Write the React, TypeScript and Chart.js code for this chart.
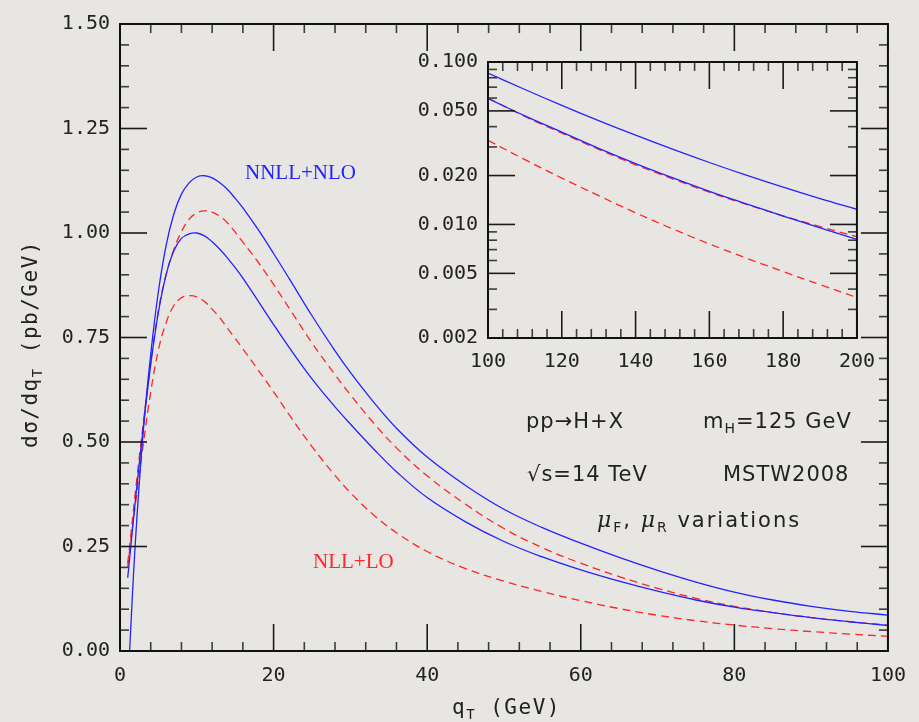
import React, { useEffect, useRef } from 'react';
import { Chart, registerables } from 'chart.js';

Chart.register(...registerables);

// ---------- main panel data (q_T in GeV, dσ/dq_T in pb/GeV) ----------
const QT = [1, 1.25, 2, 3, 4, 5, 6, 7, 8, 9, 10, 11, 12, 13, 14, 15, 16, 18, 20, 22, 25, 28, 30, 33, 36, 40, 45, 50, 55, 60, 65, 70, 75, 80, 85, 90, 95, 100];
const NNLL_UPPER = [null, 0.0, 0.26, 0.52, 0.71, 0.86, 0.97, 1.045, 1.093, 1.12, 1.134, 1.137, 1.132, 1.12, 1.104, 1.083, 1.06, 1.008, 0.951, 0.892, 0.802, 0.718, 0.6665, 0.596, 0.533, 0.464, 0.396, 0.339, 0.295, 0.258, 0.224, 0.193, 0.165, 0.141, 0.122, 0.107, 0.095, 0.086];
const NNLL_LOWER = [0.175, 0.22, 0.36, 0.53, 0.685, 0.81, 0.9, 0.957, 0.987, 0.998, 1.0, 0.993, 0.979, 0.961, 0.94, 0.917, 0.892, 0.837, 0.781, 0.727, 0.651, 0.584, 0.543, 0.484, 0.429, 0.367, 0.309, 0.262, 0.225, 0.194, 0.167, 0.143, 0.122, 0.105, 0.092, 0.080, 0.070, 0.061];
const NLL_UPPER = [0.21, 0.25, 0.38, 0.54, 0.69, 0.815, 0.9, 0.96, 1.003, 1.033, 1.048, 1.053, 1.05, 1.04, 1.024, 1.002, 0.978, 0.93, 0.877, 0.821, 0.737, 0.661, 0.613, 0.546, 0.486, 0.419, 0.351, 0.293, 0.247, 0.210, 0.178, 0.150, 0.126, 0.107, 0.092, 0.080, 0.070, 0.062];
const NLL_LOWER = [0.20, 0.24, 0.35, 0.49, 0.62, 0.72, 0.785, 0.826, 0.845, 0.85, 0.847, 0.836, 0.818, 0.797, 0.772, 0.748, 0.723, 0.672, 0.620, 0.566, 0.489, 0.420, 0.379, 0.326, 0.283, 0.238, 0.197, 0.167, 0.142, 0.1205, 0.1015, 0.0855, 0.0725, 0.062, 0.0535, 0.0465, 0.0405, 0.035];

// ---------- inset data (log scale) ----------
const QT_INSET = [100, 110, 120, 130, 140, 150, 160, 170, 180, 190, 200];
const INSET_NNLL_UPPER = [0.0854, 0.0677, 0.0541, 0.0436, 0.03544, 0.02907, 0.02406, 0.02011, 0.01696, 0.01443, 0.0124];
const INSET_NNLL_LOWER = [0.0595, 0.0466, 0.0370, 0.0294, 0.0237, 0.0194, 0.0160, 0.0134, 0.01127, 0.00953, 0.0081];
const INSET_NLL_UPPER = [0.0600, 0.0462, 0.0365, 0.0290, 0.0233, 0.0191, 0.0158, 0.0133, 0.0113, 0.0097, 0.0084];
const INSET_NLL_LOWER = [0.0330, 0.02506, 0.0193, 0.01503, 0.0118, 0.0094, 0.00759, 0.00621, 0.00513, 0.00426, 0.00355];

// ---------- ticks ----------
const MAIN_X_MAJOR = [0, 20, 40, 60, 80, 100];
const MAIN_Y_MAJOR = [0, 0.25, 0.5, 0.75, 1.0, 1.25, 1.5];
const INSET_X_MAJOR = [100, 120, 140, 160, 180, 200];
const INSET_Y_MAJOR = [0.002, 0.005, 0.01, 0.02, 0.05, 0.1];
const INSET_Y_MINOR = [0.003, 0.004, 0.006, 0.007, 0.008, 0.009, 0.03, 0.04, 0.06, 0.07, 0.08, 0.09];

const BG = '#e8e6e2';
const BLUE = '#2323ff';
const RED = '#ff2626';
const MONO = '"DejaVu Sans Mono", monospace';
const SANS = '"DejaVu Sans", sans-serif';
const TICK_COLOR = '#222222';

function steps(a: number, b: number, step: number, skip: number): number[] {
  const out: number[] = [];
  const n = Math.round((b - a) / step);
  for (let i = 0; i <= n; i++) {
    const v = +(a + i * step).toFixed(6);
    const r = v / skip;
    if (Math.abs(r - Math.round(r)) > 1e-6) out.push(v);
  }
  return out;
}

function makeFramePlugin(xMajor: number[], xMinor: number[], yMajor: number[], yMinor: number[]) {
  return {
    id: 'frameTicks',
    afterDatasetsDraw(chart: any) {
      const { ctx, chartArea: a } = chart;
      const xs = chart.scales.x;
      const ys = chart.scales.y;
      ctx.save();
      ctx.lineCap = 'butt';
      const seg = (x1: number, y1: number, x2: number, y2: number) => {
        ctx.beginPath();
        ctx.moveTo(x1, y1);
        ctx.lineTo(x2, y2);
        ctx.stroke();
      };
      const xt = (vals: number[], len: number, color: string) => {
        ctx.strokeStyle = color;
        ctx.lineWidth = 1.6;
        vals.forEach((v) => {
          const p = xs.getPixelForValue(v);
          seg(p, a.bottom, p, a.bottom - len);
          seg(p, a.top, p, a.top + len);
        });
      };
      const yt = (vals: number[], len: number, color: string) => {
        ctx.strokeStyle = color;
        ctx.lineWidth = 1.6;
        vals.forEach((v) => {
          const p = ys.getPixelForValue(v);
          seg(a.left, p, a.left + len, p);
          seg(a.right, p, a.right - len, p);
        });
      };
      xt(xMinor, 9, '#3c3c3c');
      yt(yMinor, 9, '#3c3c3c');
      xt(xMajor, 27, '#1a1a1a');
      yt(yMajor, 27, '#1a1a1a');
      ctx.strokeStyle = '#111111';
      ctx.lineWidth = 2;
      ctx.strokeRect(a.left, a.top, a.right - a.left, a.bottom - a.top);
      ctx.restore();
    },
  };
}

type Part = { t: string; sub?: boolean; font?: string };

function drawRich(ctx: CanvasRenderingContext2D, parts: Part[], x: number, y: number, size: number, subSize: number, family: string, spacing: number) {
  let cx = x;
  parts.forEach((p) => {
    const fs = p.sub ? subSize : size;
    ctx.font = p.font ? p.font : `${fs}px ${family}`;
    (ctx as any).letterSpacing = `${spacing}px`;
    ctx.fillText(p.t, cx, p.sub ? y + 5 : y);
    cx += ctx.measureText(p.t).width;
  });
  (ctx as any).letterSpacing = '0px';
}

const MU_FONT = 'italic 22px "DejaVu Serif", serif';

const annotationPlugin = {
  id: 'annotations',
  afterDraw(chart: any) {
    const ctx: CanvasRenderingContext2D = chart.ctx;
    ctx.save();
    ctx.textBaseline = 'alphabetic';
    ctx.textAlign = 'left';

    ctx.fillStyle = BLUE;
    ctx.font = '21px "Liberation Serif", serif';
    ctx.fillText('NNLL+NLO', 245, 179);
    ctx.fillStyle = RED;
    ctx.fillText('NLL+LO', 313, 568);

    ctx.fillStyle = '#222222';
    drawRich(ctx, [{ t: 'pp→H+X' }], 526, 428, 21, 14, SANS, 1);
    drawRich(ctx, [{ t: 'm' }, { t: 'H', sub: true }, { t: '=125 GeV' }], 703, 428, 21, 14, SANS, 1);
    drawRich(ctx, [{ t: '√s=14 TeV' }], 527, 481, 21, 14, SANS, 1);
    drawRich(ctx, [{ t: 'MSTW2008' }], 723, 481, 21, 14, SANS, 1);
    drawRich(ctx, [{ t: 'μ', font: MU_FONT }, { t: 'F', sub: true }, { t: ', ' }, { t: 'μ', font: MU_FONT }, { t: 'R', sub: true }, { t: ' variations' }], 597, 527, 21, 14, SANS, 2);

    // x axis title
    drawRich(ctx, [{ t: 'q' }, { t: 'T', sub: true }, { t: ' (GeV)' }], 452, 714, 21, 14, MONO, 1.5);

    // y axis title (rotated)
    ctx.save();
    ctx.translate(37, 448);
    ctx.rotate(-Math.PI / 2);
    drawRich(ctx, [{ t: 'dσ/dq' }, { t: 'T', sub: true }, { t: ' (pb/GeV)' }], 0, 0, 21, 14, MONO, 1.5);
    ctx.restore();

    ctx.restore();
  },
};

function line(xs: number[], ys: (number | null)[], color: string, dashed: boolean) {
  return {
    data: xs.map((x, i) => ({ x, y: ys[i] })),
    borderColor: color,
    borderWidth: 1.3,
    borderDash: dashed ? [8, 5] : [],
    pointRadius: 0,
    fill: false,
    tension: 0.4,
  };
}

const tickFont = { family: MONO, size: 20 };

export default function App() {
  const mainRef = useRef<HTMLCanvasElement | null>(null);
  const insetRef = useRef<HTMLCanvasElement | null>(null);

  useEffect(() => {
    const main = new Chart(mainRef.current as HTMLCanvasElement, {
      type: 'line',
      data: {
        datasets: [
          line(QT, NNLL_UPPER, BLUE, false),
          line(QT, NNLL_LOWER, BLUE, false),
          line(QT, NLL_UPPER, RED, true),
          line(QT, NLL_LOWER, RED, true),
        ] as any,
      },
      options: {
        responsive: false,
        animation: false,
        devicePixelRatio: 1,
        layout: { padding: { left: 0, top: 24, right: 27, bottom: 0 } },
        plugins: { legend: { display: false }, tooltip: { enabled: false } },
        scales: {
          x: {
            type: 'linear',
            min: 0,
            max: 100,
            grid: { display: false, drawTicks: false },
            border: { display: false },
            ticks: { stepSize: 20, font: tickFont, color: TICK_COLOR, padding: 13, maxRotation: 0, autoSkip: false },
            afterFit: (s: any) => { s.height = 71; },
          },
          y: {
            type: 'linear',
            min: 0,
            max: 1.5,
            grid: { display: false, drawTicks: false },
            border: { display: false },
            ticks: { stepSize: 0.25, font: tickFont, color: TICK_COLOR, padding: 10, autoSkip: false, callback: (v: any) => Number(v).toFixed(2) },
            afterFit: (s: any) => { s.width = 120; },
          },
        },
      } as any,
      plugins: [
        makeFramePlugin(MAIN_X_MAJOR, steps(0, 100, 4, 20), MAIN_Y_MAJOR, steps(0, 1.5, 0.05, 0.25)),
        annotationPlugin,
      ],
    });

    const inset = new Chart(insetRef.current as HTMLCanvasElement, {
      type: 'line',
      data: {
        datasets: [
          line(QT_INSET, INSET_NNLL_UPPER, BLUE, false),
          line(QT_INSET, INSET_NNLL_LOWER, BLUE, false),
          line(QT_INSET, INSET_NLL_UPPER, RED, true),
          line(QT_INSET, INSET_NLL_LOWER, RED, true),
        ] as any,
      },
      options: {
        responsive: false,
        animation: false,
        devicePixelRatio: 1,
        layout: { padding: { left: 0, top: 20, right: 30, bottom: 0 } },
        plugins: { legend: { display: false }, tooltip: { enabled: false } },
        scales: {
          x: {
            type: 'linear',
            min: 100,
            max: 200,
            grid: { display: false, drawTicks: false },
            border: { display: false },
            ticks: { stepSize: 20, font: tickFont, color: TICK_COLOR, padding: 12, maxRotation: 0, autoSkip: false },
            afterFit: (s: any) => { s.height = 47; },
          },
          y: {
            type: 'logarithmic',
            min: 0.002,
            max: 0.1,
            grid: { display: false, drawTicks: false },
            border: { display: false },
            afterBuildTicks: (s: any) => { s.ticks = INSET_Y_MAJOR.map((v) => ({ value: v })); },
            ticks: { font: tickFont, color: TICK_COLOR, padding: 10, autoSkip: false, callback: (v: any) => Number(v).toFixed(3) },
            afterFit: (s: any) => { s.width = 88; },
          },
        },
      } as any,
      plugins: [makeFramePlugin(INSET_X_MAJOR, steps(100, 200, 4, 20), INSET_Y_MAJOR, INSET_Y_MINOR)],
    });

    return () => {
      main.destroy();
      inset.destroy();
    };
  }, []);

  return (
    <div style={{ position: 'fixed', left: 0, top: 0, width: 919, height: 722, background: BG, overflow: 'hidden' }}>
      <canvas ref={mainRef} width={919} height={722} style={{ position: 'absolute', left: 0, top: 0, width: 919, height: 722 }} />
      <canvas ref={insetRef} width={487} height={345} style={{ position: 'absolute', left: 400, top: 40, width: 487, height: 345 }} />
    </div>
  );
}
